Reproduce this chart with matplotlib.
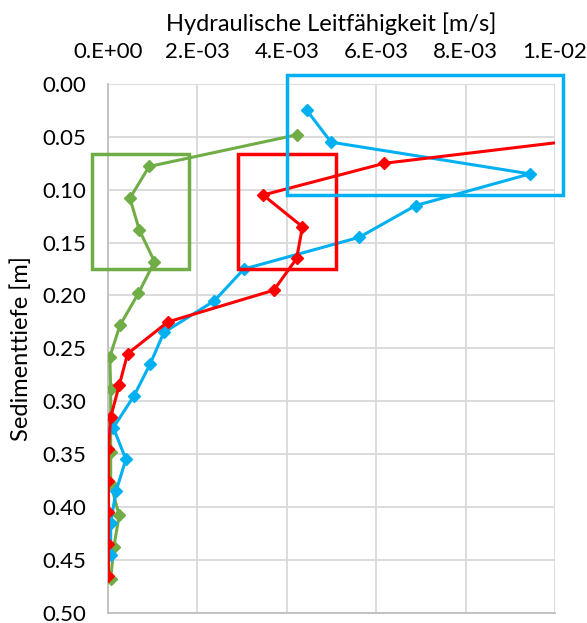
import matplotlib
matplotlib.use("Agg")
import matplotlib.pyplot as plt
from matplotlib.patches import Rectangle

plt.rcParams['font.family'] = ['Lato', 'DejaVu Sans']

# depth [m] and hydraulic conductivity [m/s] per series
depth_blue = [0.025, 0.055, 0.085, 0.115, 0.145, 0.175, 0.205, 0.235, 0.265,
              0.295, 0.325, 0.355, 0.385, 0.415, 0.445]
k_blue = [4.45e-3, 4.99e-3, 9.44e-3, 6.88e-3, 5.62e-3, 3.04e-3, 2.38e-3, 1.25e-3,
          0.94e-3, 0.58e-3, 0.12e-3, 0.40e-3, 0.18e-3, 0.06e-3, 0.06e-3]

depth_red = [0.045, 0.075, 0.105, 0.135, 0.165, 0.195, 0.225, 0.255, 0.285,
             0.315, 0.345, 0.375, 0.405, 0.435, 0.465]
k_red = [12.1e-3, 6.18e-3, 3.47e-3, 4.35e-3, 4.22e-3, 3.71e-3, 1.34e-3, 0.44e-3,
         0.25e-3, 0.06e-3, 0.01e-3, 0.01e-3, 0.01e-3, 0.01e-3, 0.01e-3]

depth_green = [0.048, 0.078, 0.108, 0.138, 0.168, 0.198, 0.228, 0.258, 0.288,
               0.318, 0.348, 0.378, 0.408, 0.438, 0.468]
k_green = [4.23e-3, 0.92e-3, 0.49e-3, 0.70e-3, 1.04e-3, 0.68e-3, 0.27e-3, 0.04e-3,
           0.06e-3, 0.06e-3, 0.06e-3, 0.06e-3, 0.25e-3, 0.13e-3, 0.06e-3]

x_ticks = [0.0, 0.002, 0.004, 0.006, 0.008, 0.010]
x_labels = ["0.E+00", "2.E-03", "4.E-03", "6.E-03", "8.E-03", "1.E-02"]
y_ticks = [i * 0.05 for i in range(11)]

# highlight boxes: (x0, y0, x1, y1, colour)
boxes = [
    (-0.36e-3, 0.0665, 1.82e-3, 0.1747, "#70AD47"),
    (2.90e-3, 0.0665, 5.09e-3, 0.1747, "#FF0000"),
    (4.00e-3, -0.0085, 10.19e-3, 0.105, "#00B0F0"),
]

fig = plt.figure(figsize=(5.87, 6.23), dpi=100)
W, H = 587, 623
ax = fig.add_axes([108 / W, 1 - 612.7 / H, (555 - 108) / W, (612.7 - 84) / H])

for k, d, c in [(k_green, depth_green, "#70AD47"),
                (k_blue, depth_blue, "#00B0F0"),
                (k_red, depth_red, "#FF0000")]:
    ax.plot(k, d, color=c, lw=2.2, marker="D", ms=6, zorder=3)

for x0, y0, x1, y1, c in boxes:
    ax.add_patch(Rectangle((x0, y0), x1 - x0, y1 - y0, fill=False,
                           edgecolor=c, lw=2.5, clip_on=False, zorder=4))

ax.set_xlim(0, 0.01)
ax.set_ylim(0.5, 0.0)
ax.xaxis.tick_top()
ax.xaxis.set_label_position("top")
ax.set_xticks(x_ticks)
ax.set_xticklabels(x_labels)
ax.set_yticks(y_ticks)
ax.set_yticklabels([f"{v:.2f}" for v in y_ticks])
ax.tick_params(length=0, labelsize=16, colors="#000000")
ax.tick_params(axis="x", pad=16)
ax.tick_params(axis="y", pad=16)
ax.set_xlabel("Hydraulische Leitfähigkeit [m/s]", fontsize=17, labelpad=8)
ax.set_ylabel("Sedimenttiefe [m]", fontsize=17, labelpad=7)

ax.grid(True, color="#D9D9D9", lw=1.3)
ax.set_axisbelow(True)
for s in ["top", "right"]:
    ax.spines[s].set_visible(False)
for s in ["left", "bottom"]:
    ax.spines[s].set_color("#BFBFBF")
    ax.spines[s].set_linewidth(1.3)

fig.savefig("out.png", dpi=100)
